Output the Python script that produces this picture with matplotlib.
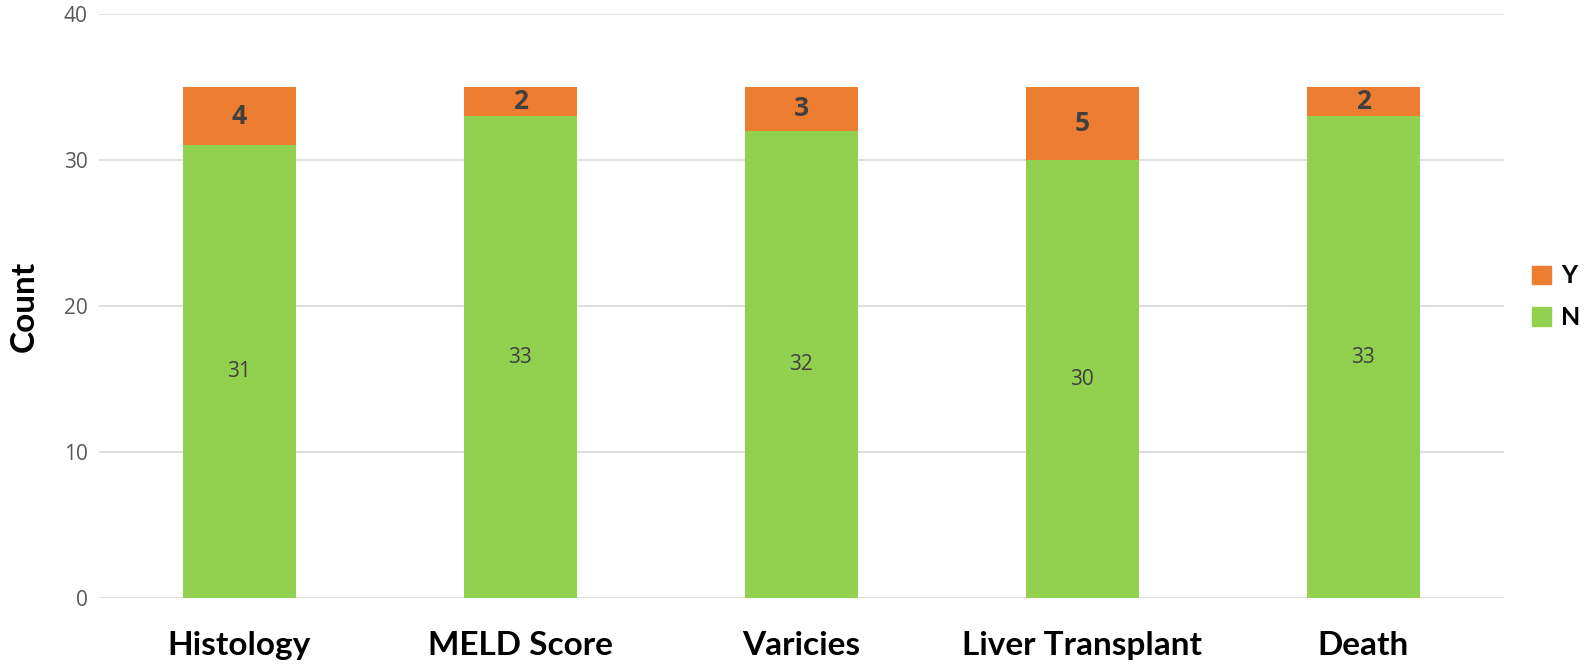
import matplotlib
matplotlib.use("Agg")
import matplotlib.pyplot as plt
from matplotlib.patches import Patch

categories = ["Histology", "MELD Score", "Varicies", "Liver Transplant", "Death"]
n_values = [31, 33, 32, 30, 33]
y_values = [4, 2, 3, 5, 2]
y_ticks = [0, 10, 20, 30, 40]

GREEN = "#92D050"
ORANGE = "#ED7D31"

fig = plt.figure(figsize=(15.88, 6.67), dpi=100)
ax = fig.add_axes([0.0623, 0.1034, 0.8847, 0.8756])

x = list(range(len(categories)))
bn = ax.bar(x, n_values, width=0.4, color=GREEN, zorder=3)
by = ax.bar(x, y_values, width=0.4, bottom=n_values, color=ORANGE, zorder=3)

for i in x:
    ax.text(i, n_values[i] / 2, str(n_values[i]), ha="center", va="center",
            fontsize=15, color="#404040", family="Open Sans", zorder=4)
    ax.text(i, n_values[i] + y_values[i] / 2, str(y_values[i]), ha="center", va="center",
            fontsize=19, color="#404040", fontweight="bold", family="Open Sans", zorder=4)

ax.set_xlim(-0.5, len(categories) - 0.5)
ax.set_ylim(0, 40)
ax.set_yticks(y_ticks)
ax.set_yticklabels([str(t) for t in y_ticks], fontsize=15, color="#595959", family="Open Sans")
ax.set_xticks(x)
ax.set_xticklabels(categories, fontsize=24, fontweight="bold", family="Lato", color="black")
ax.tick_params(axis="both", length=0)
ax.tick_params(axis="y", pad=8)
ax.tick_params(axis="x", pad=24)
ax.grid(axis="y", color="#D9D9D9", linewidth=1.2, zorder=0)
for s in ax.spines.values():
    s.set_visible(False)
ax.set_ylabel("Count", fontsize=24, fontweight="bold", family="Lato", labelpad=18)

handles = [Patch(color=ORANGE, label="Y"), Patch(color=GREEN, label="N")]
leg = fig.legend(handles=handles, loc="center left", bbox_to_anchor=(0.965, 0.555),
                 frameon=False, borderpad=0, borderaxespad=0,
                 handlelength=0.75, handleheight=0.75, handletextpad=0.4,
                 labelspacing=0.75, prop={"family": "Lato", "weight": "bold", "size": 18})

fig.savefig("out.png", dpi=100)
